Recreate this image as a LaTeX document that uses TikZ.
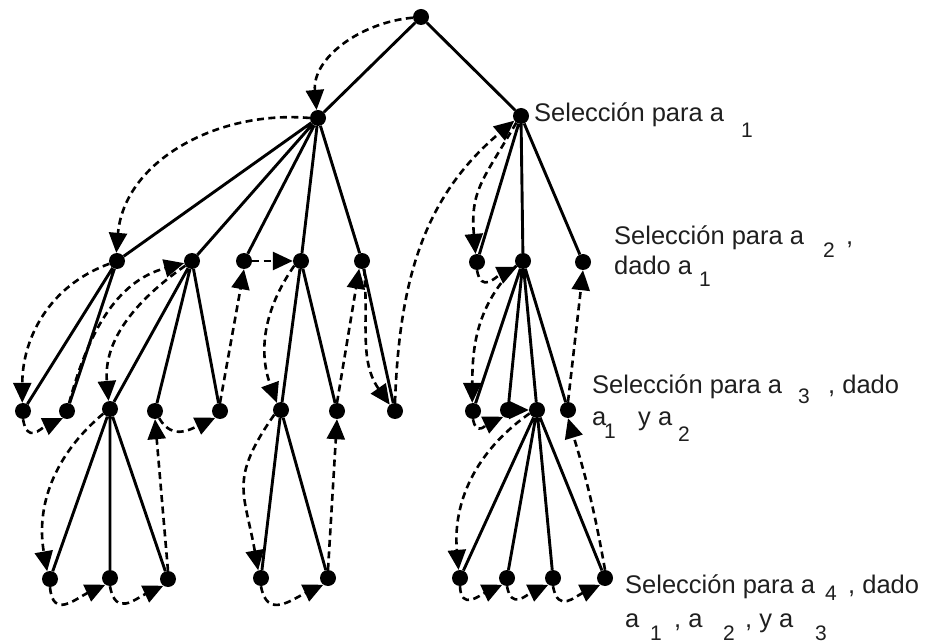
\documentclass[tikz,border=0pt]{standalone}
\usepackage{fontspec}
\setmainfont{Liberation Sans}
\newfontfamily\lblfont{Liberation Sans}
\usetikzlibrary{arrows.meta}
\newcommand\mainsize{\fontsize{25.5}{30}\selectfont}
\newcommand\subsize{\fontsize{21}{25}\selectfont}
\begin{document}
\begin{tikzpicture}[x=1pt,y=1pt,
  dot/.style={circle,fill=black,inner sep=0pt,minimum size=16pt},
  branch/.style={line width=2.9pt},
  search/.style={line width=2.6pt,dash pattern=on 7pt off 4.5pt,
    -{Triangle[length=20pt,width=18pt]}},
  lbl/.style={inner sep=0pt,anchor=base west,text=black!88,
    font=\lblfont\mainsize},
  sub/.style={inner sep=0pt,anchor=base west,text=black!88,
    font=\lblfont\subsize}]
\useasboundingbox (0,0) rectangle (932,-644);

% decision nodes, level by level
\node[dot] (R) at (421,-17) {};
\node[dot] (A) at (318,-118) {};
\node[dot] (B) at (521,-116) {};
\node[dot] (A1) at (117,-261) {};
\node[dot] (A2) at (192,-261) {};
\node[dot] (A3) at (244,-261) {};
\node[dot] (A4) at (301,-261) {};
\node[dot] (A5) at (362,-261) {};
\node[dot] (B1) at (477,-262) {};
\node[dot] (B2) at (523,-261) {};
\node[dot] (B3) at (583,-262) {};
\node[dot] (A11) at (23,-411) {};
\node[dot] (A12) at (67,-411) {};
\node[dot] (A21) at (110,-409) {};
\node[dot] (A22) at (155,-411) {};
\node[dot] (A23) at (220,-411) {};
\node[dot] (A41) at (281,-410) {};
\node[dot] (A42) at (337,-411) {};
\node[dot] (A51) at (395,-411) {};
\node[dot] (B21) at (473,-411) {};
\node[dot] (B22) at (508,-410) {};
\node[dot] (B23) at (537,-410) {};
\node[dot] (B24) at (568,-410) {};
\node[dot] (A211) at (50,-579) {};
\node[dot] (A212) at (110,-578) {};
\node[dot] (A213) at (168,-579) {};
\node[dot] (A411) at (261,-578) {};
\node[dot] (A412) at (328,-578) {};
\node[dot] (B231) at (460,-578) {};
\node[dot] (B232) at (507,-578) {};
\node[dot] (B233) at (553,-578) {};
\node[dot] (B234) at (605,-578) {};

% tree branches
\draw[branch] (R) -- (A) (R) -- (B);
\draw[branch] (A) -- (A1) (A) -- (A2) (A) -- (A3) (A) -- (A4) (A) -- (A5);
\draw[branch] (B) -- (B1) (B) -- (B2) (B) -- (B3);
\draw[branch] (A1) -- (A11) (A1) -- (A12);
\draw[branch] (A2) -- (A21) (A2) -- (A22) (A2) -- (A23);
\draw[branch] (A4) -- (A41) (A4) -- (A42);
\draw[branch] (A5) -- (A51);
\draw[branch] (B2) -- (B21) (B2) -- (B22) (B2) -- (B23) (B2) -- (B24);
\draw[branch] (A21) -- (A211) (A21) -- (A212) (A21) -- (A213);
\draw[branch] (A41) -- (A411) (A41) -- (A412);
\draw[branch] (B23) -- (B231) (B23) -- (B232) (B23) -- (B233) (B23) -- (B234);

% search path through the tree
\draw[search] (R.185) to[out=185,in=95] (A.100);
\draw[search] (A.180) to[out=175,in=85] (A1.95);
\draw[search] (A1.200) to[out=200,in=90] (A11.95);
\draw[search] (A11.south) to[out=-80,in=205,looseness=1.6] (A12.240);
\draw[search] (A12.75) to[out=75,in=195] (A2.195);
\draw[search] (A2.215) to[out=215,in=95] (A21.100);
\draw[search] (A21.215) to[out=220,in=100] (A211.110);
\draw[search] (A211.south) to[out=-85,in=205,looseness=1.5] (A212.235);
\draw[search] (A212.south) to[out=-80,in=205,looseness=1.5] (A213.235);
\draw[search] (A213.north) -- (A22.south);
\draw[search] (A22.-60) to[out=-60,in=205,looseness=1.2] (A23.235);
\draw[search] (A23.north) -- (A3.south);
\draw[search] (A3.east) -- (A4.west);
\draw[search] (A4.215) to[out=235,in=110] (A41.120);
\draw[search] (A41.215) to[out=235,in=100,looseness=1.3] (A411.110);
\draw[search] (A411.south) to[out=-80,in=205,looseness=1.4] (A412.235);
\draw[search] (A412.north) -- (A42.south);
\draw[search] (A42.north) -- (A5.250);
\draw[search] (A5.-75) to[out=-85,in=125] (A51.130);
\draw[search] (A51.north) to[out=88,in=220] (B.215);
\draw[search] (B.235) to[out=240,in=95,looseness=1.2] (B1.100);
\draw[search] (B1.south) to[out=-80,in=205,looseness=1.5] (B2.225);
\draw[search] (B2.215) to[out=225,in=90] (B21.95);
\draw[search] (B21.south) to[out=-80,in=205,looseness=1.5] (B22.235);
\draw[search] (B22.east) -- (B23.west);
\draw[search] (B23.205) to[out=215,in=95] (B231.100);
\draw[search] (B231.south) to[out=-88,in=205,looseness=1.5] (B232.235);
\draw[search] (B232.south) to[out=-80,in=205,looseness=1.5] (B233.235);
\draw[search] (B233.south) to[out=-80,in=205,looseness=1.5] (B234.235);
\draw[search] (B234.north) to[out=100,in=-73] (B24.south);
\draw[search] (B24.north) -- (B3.south);

% level captions
\node[lbl] (t1) at (534,-122) {Selección para a};
\node[sub] (t1s) at (741,-138) {1};

\node[lbl] (t2) at (614,-245) {Selección para a};
\node[sub] (t2s) at (823,-258) {2};
\node[lbl] (t2c) at (846,-245) {,};
\node[lbl] (t2b) at (614,-275) {dado a};
\node[sub] (t2bs) at (699,-287) {1};

\node[lbl] (t3) at (592,-393) {Selección para a};
\node[sub] (t3s) at (798,-403) {3};
\node[lbl] (t3d) at (828,-393) {, dado};
\node[lbl] (t3b) at (592,-425) {a};
\node[sub] (t3bs) at (604,-438) {1};
\node[lbl] (t3y) at (638,-425) {y a};
\node[sub] (t3ys) at (678,-441) {2};

\node[lbl] (t4) at (625,-593) {Selección para a};
\node[sub] (t4s) at (825,-600) {4};
\node[lbl] (t4d) at (848,-593) {, dado};
\node[lbl] (t4b) at (625,-627) {a};
\node[sub] (t4bs) at (650,-640) {1};
\node[lbl] (t4c) at (674,-627) {, a};
\node[sub] (t4cs) at (723,-640) {2};
\node[lbl] (t4y) at (745,-627) {, y a};
\node[sub] (t4ys) at (815,-640) {3};
\end{tikzpicture}
\end{document}
